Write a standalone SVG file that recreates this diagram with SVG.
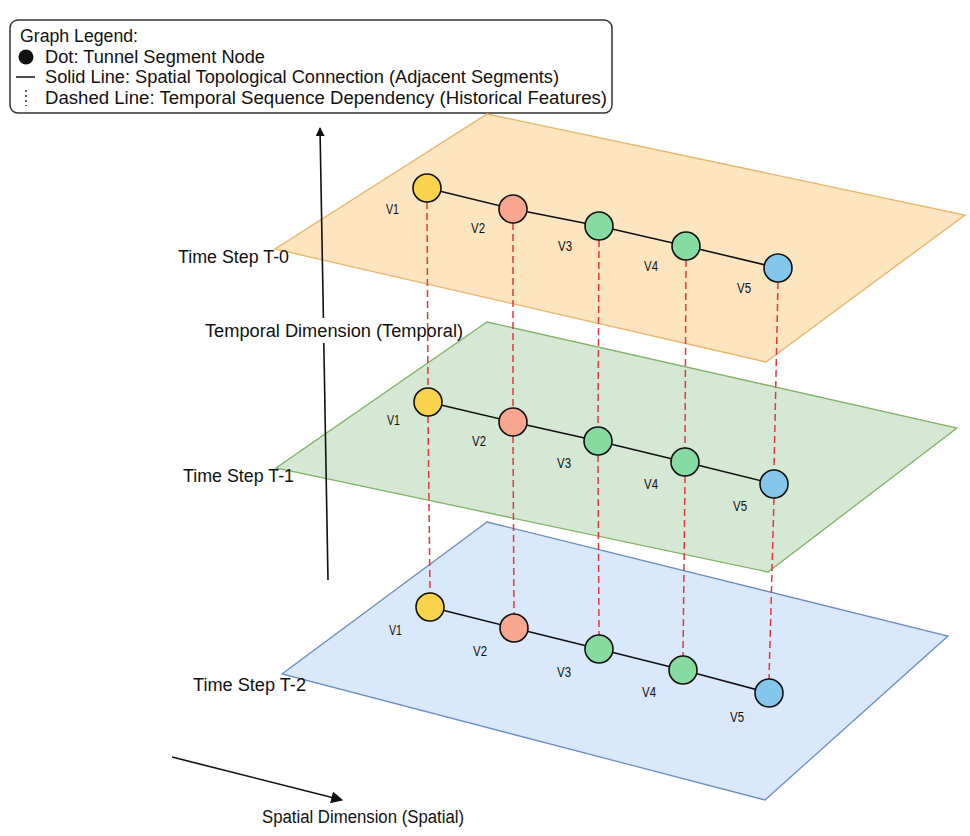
<svg xmlns="http://www.w3.org/2000/svg" width="970" height="836" viewBox="0 0 970 836">
<style>
text{font-family:"Liberation Sans",Arial,sans-serif;fill:#111}
.lbl{font-size:18px}
.lg{font-size:17.5px}
.vl{font-size:14px}
.node{stroke:#111;stroke-width:1.6}
.y{fill:#f9d34c}.r{fill:#f8a68f}.g{fill:#86dba0}.b{fill:#84c6ec}
.chain{fill:none;stroke:#111;stroke-width:1.6}
.dash{stroke:#e0393e;stroke-width:1.5;stroke-dasharray:7 4;fill:none}
.axis{stroke:#111;stroke-width:1.6;fill:none}
</style>
<defs>
<marker id="ah" viewBox="0 0 10 10" refX="9" refY="5" markerWidth="9" markerHeight="9" orient="auto" markerUnits="userSpaceOnUse"><path d="M0,0 L10,5 L0,10 z" fill="#111"/></marker>
<marker id="ah2" viewBox="0 0 10 10" refX="9" refY="5" markerWidth="12" markerHeight="12" orient="auto" markerUnits="userSpaceOnUse"><path d="M0,0 L10,5 L0,10 z" fill="#111"/></marker>
</defs>
<rect width="970" height="836" fill="#fff"/>

<g id="legend">
<rect x="10" y="20" width="602" height="93" rx="8" fill="#fff" stroke="#333" stroke-width="1.5"/>
<text class="lg" x="20" y="42" textLength="118" lengthAdjust="spacingAndGlyphs">Graph Legend:</text>
<circle cx="26" cy="57" r="7.5" fill="#111"/>
<text class="lg" x="45" y="63" textLength="220" lengthAdjust="spacingAndGlyphs">Dot: Tunnel Segment Node</text>
<line x1="16" y1="77" x2="35" y2="77" stroke="#111" stroke-width="1.5"/>
<text class="lg" x="45" y="83" textLength="514" lengthAdjust="spacingAndGlyphs">Solid Line: Spatial Topological Connection (Adjacent Segments)</text>
<line x1="26" y1="90" x2="26" y2="106" stroke="#333" stroke-width="1.5" stroke-dasharray="2 3"/>
<text class="lg" x="45" y="104" textLength="562" lengthAdjust="spacingAndGlyphs">Dashed Line: Temporal Sequence Dependency (Historical Features)</text>
</g>

<g id="plane-t2">
<polygon points="487,522 948,636 765,800 282,674" fill="#dae8fc" stroke="#6c8ebf" stroke-width="1.3"/>
</g>
<g id="plane-t1">
<polygon points="487,322 957,428 768,572 276,468" fill="#d5e8d4" stroke="#82b366" stroke-width="1.3"/>
</g>
<g id="plane-t0">
<polygon points="487,114 965,215 766,362 275,249" fill="#fde5c0" stroke="#e7b46a" stroke-width="1.3"/>
</g>

<g id="axes">
<line class="axis" x1="328" y1="580" x2="323.8" y2="343"/>
<line class="axis" x1="323.4" y1="318" x2="320" y2="128" marker-end="url(#ah)"/>
<line class="axis" x1="172" y1="757" x2="342" y2="800" marker-end="url(#ah2)"/>
</g>

<g id="connectors">
<path class="chain" d="M427,188 L513,209 L599,226 L686,246 L778,268"/>
<path class="chain" d="M428,402 L513,422 L598,441 L685,462 L774,484"/>
<path class="chain" d="M430,607 L514,628 L599,649 L683,670 L769,693"/>
<path class="dash" d="M427,202 L428,388 M428,416 L430,593"/>
<path class="dash" d="M513,223 L513,408 M513,436 L514,614"/>
<path class="dash" d="M599,240 L598,427 M598,455 L599,635"/>
<path class="dash" d="M686,260 L685,448 M685,476 L683,656"/>
<path class="dash" d="M778,282 L774,470 M774,498 L769,679"/>
</g>

<g id="t0-nodes">
<g id="t0-v1"><circle class="node y" cx="427" cy="188" r="14"/><text class="vl" x="386" y="214" textLength="13" lengthAdjust="spacingAndGlyphs">V1</text></g>
<g id="t0-v2"><circle class="node r" cx="513" cy="209" r="14"/><text class="vl" x="471" y="233" textLength="14" lengthAdjust="spacingAndGlyphs">V2</text></g>
<g id="t0-v3"><circle class="node g" cx="599" cy="226" r="14"/><text class="vl" x="558" y="251" textLength="14" lengthAdjust="spacingAndGlyphs">V3</text></g>
<g id="t0-v4"><circle class="node g" cx="686" cy="246" r="14"/><text class="vl" x="644" y="271" textLength="14" lengthAdjust="spacingAndGlyphs">V4</text></g>
<g id="t0-v5"><circle class="node b" cx="778" cy="268" r="14"/><text class="vl" x="737" y="293" textLength="14" lengthAdjust="spacingAndGlyphs">V5</text></g>
</g>
<g id="t1-nodes">
<g id="t1-v1"><circle class="node y" cx="428" cy="402" r="14"/><text class="vl" x="387" y="425" textLength="13" lengthAdjust="spacingAndGlyphs">V1</text></g>
<g id="t1-v2"><circle class="node r" cx="513" cy="422" r="14"/><text class="vl" x="472" y="446" textLength="14" lengthAdjust="spacingAndGlyphs">V2</text></g>
<g id="t1-v3"><circle class="node g" cx="598" cy="441" r="14"/><text class="vl" x="557" y="468" textLength="14" lengthAdjust="spacingAndGlyphs">V3</text></g>
<g id="t1-v4"><circle class="node g" cx="685" cy="462" r="14"/><text class="vl" x="644" y="489" textLength="14" lengthAdjust="spacingAndGlyphs">V4</text></g>
<g id="t1-v5"><circle class="node b" cx="774" cy="484" r="14"/><text class="vl" x="733" y="511" textLength="14" lengthAdjust="spacingAndGlyphs">V5</text></g>
</g>
<g id="t2-nodes">
<g id="t2-v1"><circle class="node y" cx="430" cy="607" r="14"/><text class="vl" x="389" y="635" textLength="13" lengthAdjust="spacingAndGlyphs">V1</text></g>
<g id="t2-v2"><circle class="node r" cx="514" cy="628" r="14"/><text class="vl" x="473" y="656" textLength="14" lengthAdjust="spacingAndGlyphs">V2</text></g>
<g id="t2-v3"><circle class="node g" cx="599" cy="649" r="14"/><text class="vl" x="557" y="677" textLength="14" lengthAdjust="spacingAndGlyphs">V3</text></g>
<g id="t2-v4"><circle class="node g" cx="683" cy="670" r="14"/><text class="vl" x="642" y="697" textLength="14" lengthAdjust="spacingAndGlyphs">V4</text></g>
<g id="t2-v5"><circle class="node b" cx="769" cy="693" r="14"/><text class="vl" x="730" y="722" textLength="14" lengthAdjust="spacingAndGlyphs">V5</text></g>
</g>

<g id="labels">
<text class="lbl" x="178" y="263" textLength="111" lengthAdjust="spacingAndGlyphs">Time Step T-0</text>
<text class="lbl" x="205" y="337" textLength="258" lengthAdjust="spacingAndGlyphs">Temporal Dimension (Temporal)</text>
<text class="lbl" x="183" y="482" textLength="111" lengthAdjust="spacingAndGlyphs">Time Step T-1</text>
<text class="lbl" x="193" y="691" textLength="113" lengthAdjust="spacingAndGlyphs">Time Step T-2</text>
<text class="lbl" x="262" y="823" textLength="202" lengthAdjust="spacingAndGlyphs">Spatial Dimension (Spatial)</text>
</g>
</svg>
